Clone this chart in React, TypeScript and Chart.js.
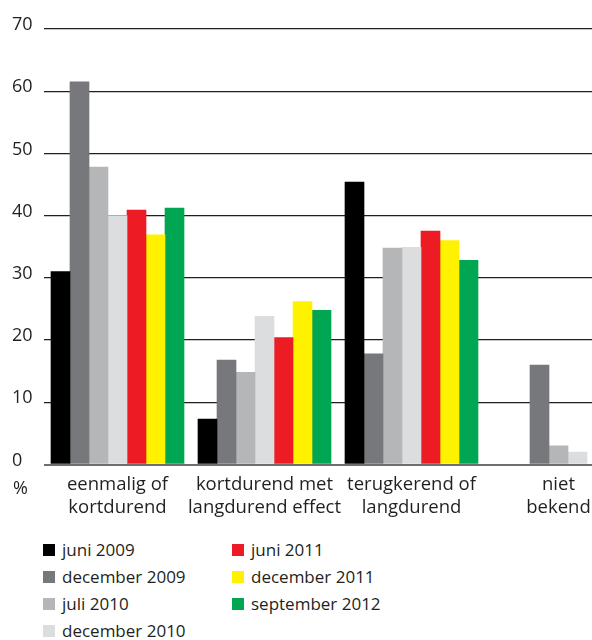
import React, { useEffect, useRef } from "react";
import { Chart, registerables } from "chart.js";

Chart.register(...registerables);

// ---- data ----
const categories: string[][] = [
  ["eenmalig of", "kortdurend"],
  ["kortdurend met", "langdurend effect"],
  ["terugkerend of", "langdurend"],
  ["niet", "bekend"],
];
const seriesNames: string[] = [
  "juni 2009",
  "december 2009",
  "juli 2010",
  "december 2010",
  "juni 2011",
  "december 2011",
  "september 2012",
];
const juni2009: (number | null)[] = [31.0, 7.3, 45.4, null];
const december2009: (number | null)[] = [61.5, 16.8, 17.8, 16.0];
const juli2010: (number | null)[] = [47.8, 14.8, 34.8, 3.0];
const december2010: (number | null)[] = [40.0, 23.8, 34.9, 2.0];
const juni2011: (number | null)[] = [40.9, 20.4, 37.5, null];
const december2011: (number | null)[] = [36.9, 26.2, 36.0, null];
const september2012: (number | null)[] = [41.2, 24.8, 32.8, null];
const yTicks: number[] = [0, 10, 20, 30, 40, 50, 60, 70];

const seriesValues = [juni2009, december2009, juli2010, december2010, juni2011, december2011, september2012];
const seriesColors = ["#000000", "#77787b", "#b5b6b8", "#dcdddf", "#ed1c24", "#fff200", "#00a651"];

const FONT = "'Open Sans', 'Noto Sans', sans-serif";
const TEXT = "#231f20";

export default function App() {
  const ref = useRef<HTMLCanvasElement>(null);

  useEffect(() => {
    if (!ref.current) return;
    const percentPlugin = {
      id: "percentLabel",
      afterDraw(chart: any) {
        const { ctx } = chart;
        const y = chart.scales.y;
        ctx.save();
        ctx.font = `18px ${FONT}`;
        ctx.fillStyle = TEXT;
        ctx.textAlign = "left";
        ctx.textBaseline = "middle";
        ctx.fillText("%", y.left + 1, y.getPixelForValue(0) + 24);
        ctx.restore();
      },
    };
    const chart = new Chart(ref.current, {
      type: "bar",
      data: {
        labels: categories as any,
        datasets: seriesNames.map((name, i) => ({
          label: name,
          data: seriesValues[i] as any,
          backgroundColor: seriesColors[i],
          borderWidth: 0,
          barThickness: 19,
          skipNull: true,
        })),
      },
      options: {
        animation: false,
        responsive: false,
        layout: { padding: { left: 12, top: 29, right: 0, bottom: 0 } },
        plugins: { legend: { display: false }, tooltip: { enabled: false } },
        scales: {
          x: {
            grid: { display: false, drawTicks: false },
            border: { display: false },
            ticks: {
              font: { family: FONT, size: 18.5, lineHeight: 1.27 },
              color: TEXT,
              padding: 8,
              maxRotation: 0,
              autoSkip: false,
            },
            afterFit: (s: any) => {
              s.height = 55.5;
            },
          },
          y: {
            min: 0,
            max: 70,
            afterBuildTicks: (s: any) => {
              s.ticks = yTicks.map((v) => ({ value: v }));
            },
            grid: {
              color: (c: any) => (c.tick && c.tick.value === 0 ? "#6d6e71" : "#231f20"),
              lineWidth: (c: any) => (c.tick && c.tick.value === 0 ? 2 : 1.2),
              drawTicks: false,
            },
            border: { display: false },
            ticks: {
              crossAlign: "far",
              padding: 0,
              labelOffset: -4,
              font: { family: FONT, size: 18 },
              color: TEXT,
            },
            afterFit: (s: any) => {
              s.width = 32;
            },
          },
        },
      },
      plugins: [percentPlugin],
    });
    return () => chart.destroy();
  }, []);

  return (
    <div
      style={{
        position: "absolute",
        left: 0,
        top: 0,
        width: 592,
        height: 640,
        overflow: "hidden",
        background: "#ffffff",
      }}
    >
      <canvas ref={ref} width={632} height={520} style={{ display: "block" }} />
      <div
        style={{
          position: "absolute",
          left: 43,
          top: 536,
          display: "grid",
          gridTemplateColumns: "189px auto",
          gridTemplateRows: "repeat(4, 27px)",
          gridAutoFlow: "column",
          fontFamily: FONT,
          fontSize: 17,
          color: TEXT,
        }}
      >
        {seriesNames.map((n, i) => (
          <div key={n} style={{ display: "flex", alignItems: "center", whiteSpace: "nowrap" }}>
            <span
              style={{
                display: "inline-block",
                width: 12,
                height: 12,
                background: seriesColors[i],
                marginRight: 7,
                flex: "none",
              }}
            />
            {n}
          </div>
        ))}
      </div>
    </div>
  );
}
